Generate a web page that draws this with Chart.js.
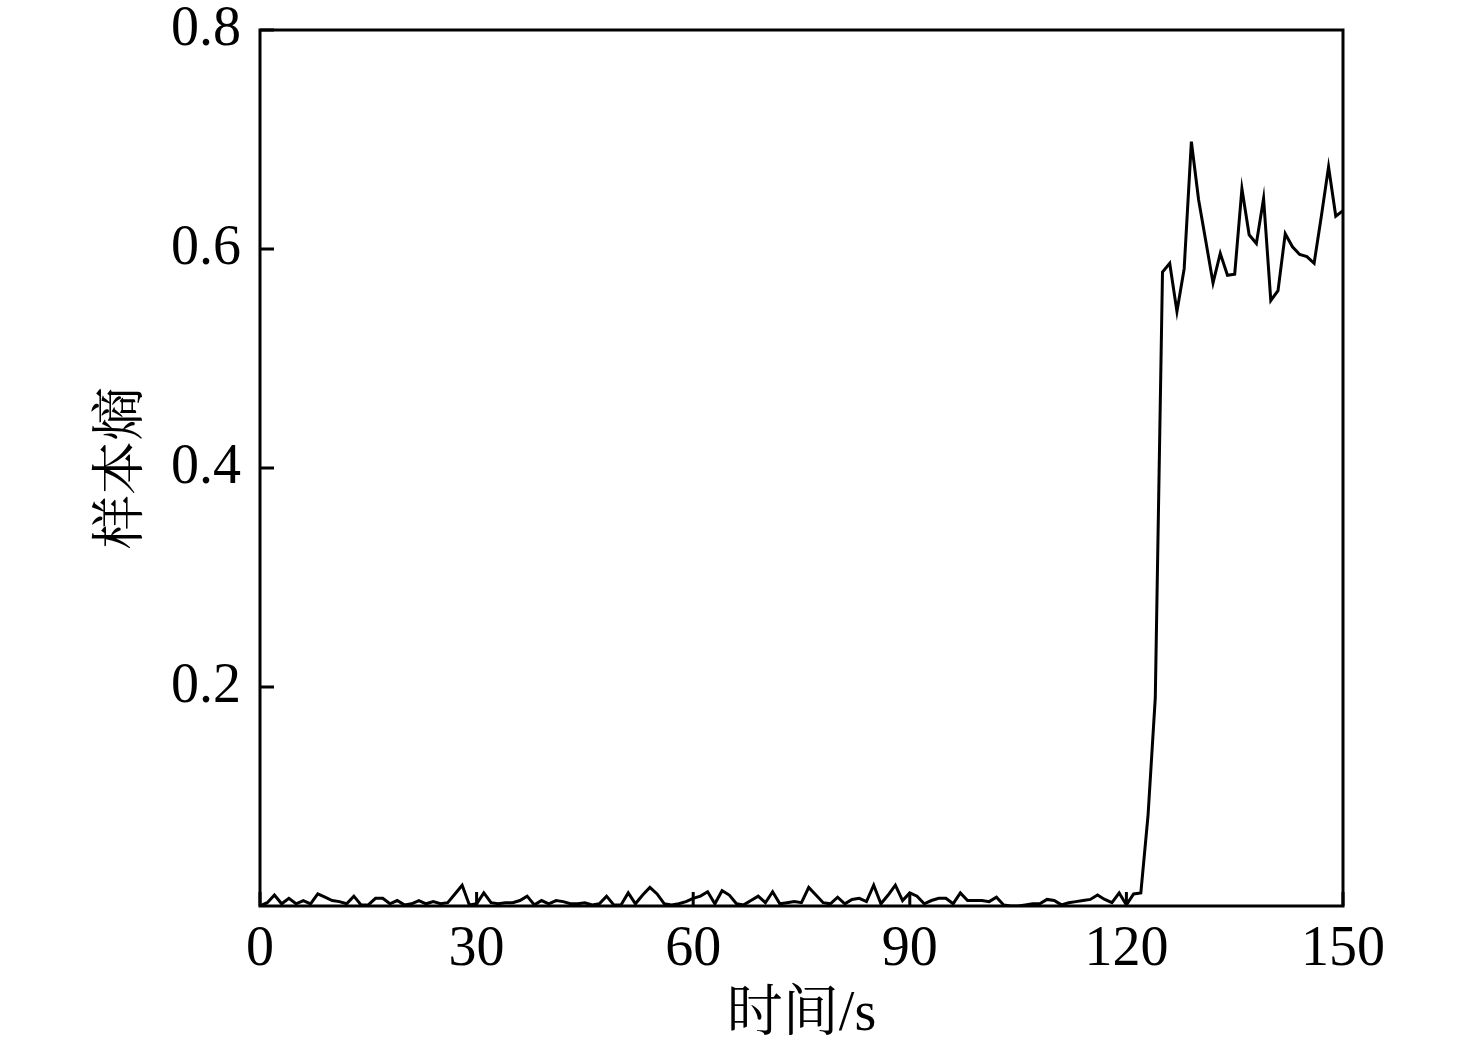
<!DOCTYPE html>
<html>
<head>
<meta charset="utf-8">
<script src="https://cdn.jsdelivr.net/npm/chart.js@4.4.1/dist/chart.umd.min.js"></script>
<style>
  html, body { margin: 0; padding: 0; background: #fff; }
  #wrap { width: 1476px; height: 1049px; }
</style>
</head>
<body>
<div id="wrap"><canvas id="myChart" width="1476" height="1049"></canvas></div>
<script>
// sample entropy, one value per second (0..150 s)
const entropy = [
  0.000, 0.003, 0.010, 0.002, 0.007, 0.002, 0.005, 0.002, 0.011, 0.008,
  0.005, 0.004, 0.002, 0.009, 0.001, 0.001, 0.007, 0.007, 0.002, 0.005,
  0.001, 0.002, 0.005, 0.002, 0.004, 0.002, 0.003, 0.011, 0.019, 0.001,
  0.002, 0.012, 0.003, 0.002, 0.003, 0.003, 0.005, 0.009, 0.001, 0.005,
  0.002, 0.005, 0.004, 0.002, 0.002, 0.003, 0.001, 0.002, 0.009, 0.001,
  0.001, 0.012, 0.002, 0.010, 0.017, 0.011, 0.002, 0.001, 0.002, 0.004,
  0.007, 0.009, 0.013, 0.002, 0.014, 0.010, 0.002, 0.001, 0.005, 0.009,
  0.003, 0.013, 0.002, 0.003, 0.004, 0.003, 0.017, 0.010, 0.003, 0.002,
  0.008, 0.002, 0.006, 0.007, 0.004, 0.019, 0.002, 0.010, 0.019, 0.005,
  0.012, 0.009, 0.002, 0.005, 0.007, 0.007, 0.002, 0.012, 0.005, 0.005,
  0.005, 0.004, 0.008, 0.001, 0.000, 0.000, 0.001, 0.002, 0.002, 0.006,
  0.005, 0.001, 0.003, 0.004, 0.005, 0.006, 0.010, 0.006, 0.003, 0.012,
  0.001, 0.011, 0.012, 0.083, 0.190, 0.579, 0.587, 0.543, 0.582, 0.698,
  0.645, 0.607, 0.569, 0.596, 0.576, 0.577, 0.655, 0.613, 0.605, 0.646,
  0.553, 0.562, 0.614, 0.602, 0.595, 0.593, 0.587, 0.630, 0.675, 0.630,
  0.635
];
const timeSec = entropy.map((v, i) => i);   // sampled every 1 s

const xTicks = [0, 30, 60, 90, 120, 150];
const yTicks = [0.2, 0.4, 0.6, 0.8];
const xTitle = '时间/s';
const yTitle = '样本熵';

const numFont = '"Liberation Serif", "Times New Roman", serif';
const cjkFont = '"Liberation Serif", "Noto Serif CJK SC", "Noto Sans CJK SC", serif';

// box, inner ticks and axis titles
const frame = {
  id: 'frame',
  afterDraw(chart) {
    const c = chart.ctx, a = chart.chartArea;
    const xs = chart.scales.x, ys = chart.scales.y;
    c.save();
    c.strokeStyle = '#000';
    c.lineWidth = 3;
    c.strokeRect(a.left, a.top, a.right - a.left, a.bottom - a.top);
    c.beginPath();
    xTicks.forEach(t => {
      const px = xs.getPixelForValue(t);
      c.moveTo(px, a.bottom);
      c.lineTo(px, a.bottom - 14);
    });
    yTicks.forEach(t => {
      const py = ys.getPixelForValue(t);
      c.moveTo(a.left, py);
      c.lineTo(a.left + 14, py);
    });
    c.stroke();

    c.fillStyle = '#000';
    c.textAlign = 'center';
    c.textBaseline = 'middle';
    c.font = '56px ' + cjkFont;
    c.fillText(xTitle, (a.left + a.right) / 2, 1015);
    c.translate(124, (a.top + a.bottom) / 2);
    c.rotate(-Math.PI / 2);
    c.font = '54px ' + cjkFont;
    c.fillText(yTitle, 0, 0);
    c.restore();
  }
};

const ctx = document.getElementById('myChart');

const myChart = new Chart(ctx, {
  type: 'line',
  data: {
    datasets: [{
      data: timeSec.map((t, i) => ({x: t, y: entropy[i]})),
      borderColor: '#000',
      borderWidth: 3,
      pointRadius: 0,
      tension: 0,
      fill: false
    }]
  },
  options: {
    responsive: false,
    animation: false,
    layout: {
      padding: {top: 30, right: 133, left: 0, bottom: 0}
    },
    scales: {
      x: {
        type: 'linear',
        min: 0,
        max: 150,
        grid: {display: false},
        border: {display: false},
        afterBuildTicks: s => { s.ticks = xTicks.map(v => ({value: v})); },
        afterFit: s => { s.height = 143; s.paddingLeft = 0; s.paddingRight = 0; },
        ticks: {
          color: '#000',
          padding: 3,
          maxRotation: 0,
          font: {family: numFont, size: 56}
        }
      },
      y: {
        min: 0,
        max: 0.8,
        grid: {display: false},
        border: {display: false},
        afterBuildTicks: s => { s.ticks = yTicks.map(v => ({value: v})); },
        afterFit: s => { s.width = 260; s.paddingTop = 0; s.paddingBottom = 0; },
        ticks: {
          color: '#000',
          padding: 11,
          font: {family: numFont, size: 56},
          callback: v => v.toFixed(1)
        }
      }
    },
    plugins: {
      legend: {display: false},
      tooltip: {enabled: false}
    }
  },
  plugins: [frame]
});
</script>
</body>
</html>
